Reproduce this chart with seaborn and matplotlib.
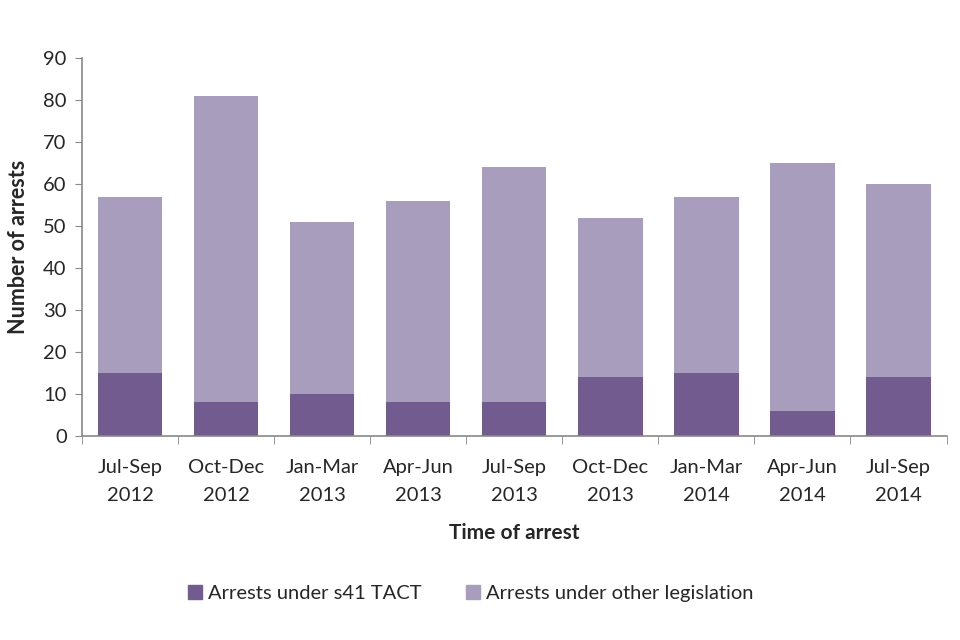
import numpy as np
import pandas as pd
import seaborn as sns
import matplotlib.pyplot as plt
from matplotlib.patches import Patch

# ----------------------------
# Data
# ----------------------------
quarters = ["Jul-Sep\n2012", "Oct-Dec\n2012", "Jan-Mar\n2013", "Apr-Jun\n2013",
            "Jul-Sep\n2013", "Oct-Dec\n2013", "Jan-Mar\n2014", "Apr-Jun\n2014",
            "Jul-Sep\n2014"]
s41_tact = [15, 8, 10, 8, 8, 14, 15, 6, 14]
other_legislation = [42, 73, 41, 48, 56, 38, 42, 59, 46]

dark_col = "#725b8f"
light_col = "#a89dbd"
axis_col = "#898989"

df = pd.DataFrame({"quarter": quarters, "s41": s41_tact, "other": other_legislation})
df["total"] = df["s41"] + df["other"]

# ----------------------------
# Plot
# ----------------------------
sns.set_style("white")
plt.rcParams['font.family'] = ['Lato', 'DejaVu Sans']

fig = plt.figure(figsize=(9.6, 6.4), dpi=100)
ax = fig.add_axes([0.0854, 0.319, 0.9006, 0.590])

# stacked: draw totals first, then s41 on top
sns.barplot(data=df, x="quarter", y="total", color=light_col, width=0.67,
            saturation=1, linewidth=0, ax=ax)
sns.barplot(data=df, x="quarter", y="s41", color=dark_col, width=0.67,
            saturation=1, linewidth=0, ax=ax)

ax.set_xlim(-0.5, len(quarters) - 0.5)
ax.set_ylim(0, 90)
ax.set_yticks(np.arange(0, 91, 10))

ax.set_xlabel("Time of arrest", fontsize=15, fontweight="bold", labelpad=14)
ax.set_ylabel("Number of arrests", fontsize=15.5, fontweight="bold", labelpad=10)

ax.tick_params(axis="y", labelsize=14.5, length=5, color=axis_col, direction="out",
               left=True, pad=6)
ax.tick_params(axis="x", which="major", labelsize=14.5, length=0, pad=17)
for lbl in ax.get_xticklabels():
    lbl.set_linespacing(1.75)
ax.set_xticks(np.arange(-0.5, len(quarters), 1), minor=True)
ax.tick_params(axis="x", which="minor", length=6, color=axis_col, direction="out", bottom=True)

for side in ["top", "right"]:
    ax.spines[side].set_visible(False)
for side in ["left", "bottom"]:
    ax.spines[side].set_color(axis_col)
    ax.spines[side].set_linewidth(1.2)

handles = [Patch(color=dark_col, label="Arrests under s41 TACT"),
           Patch(color=light_col, label="Arrests under other legislation")]
fig.legend(handles=handles, loc="center", bbox_to_anchor=(0.49, 0.073), ncol=2,
           frameon=False, fontsize=14.5, handlelength=0.7, handleheight=0.7,
           handletextpad=0.3, columnspacing=2.2)

plt.savefig("out.png", dpi=100)
plt.close()
